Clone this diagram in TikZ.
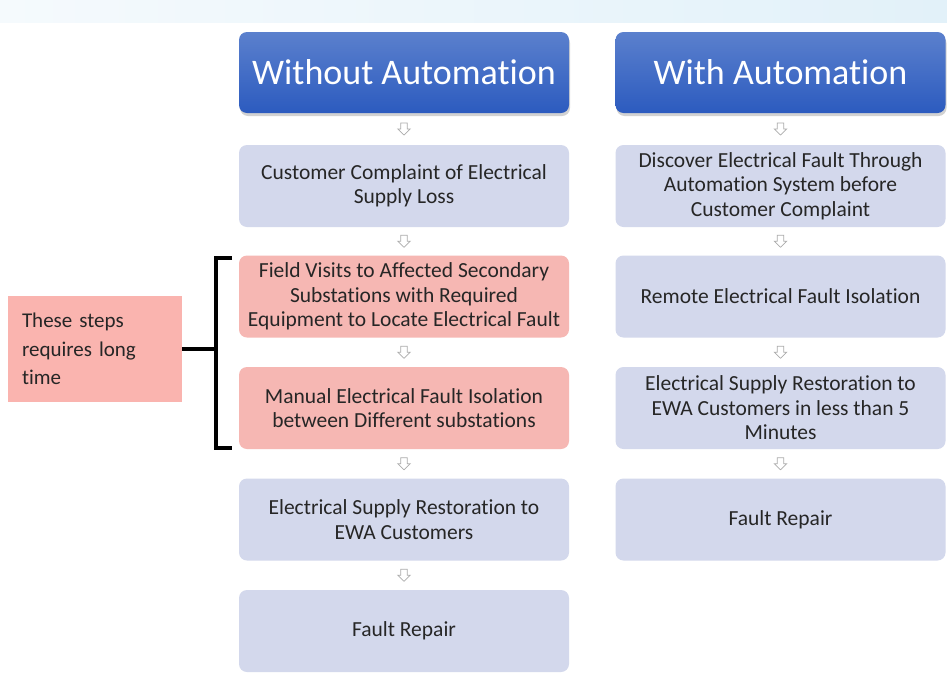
\documentclass[tikz,border=0pt]{standalone}
\usepackage{fontspec}
\setmainfont{Carlito}[Ligatures=NoCommon]
\usetikzlibrary{shadows,calc}

\definecolor{hdtop}{HTML}{5B80CD}
\definecolor{hdbot}{HTML}{2C5BBF}
\definecolor{stepfill}{HTML}{D3D8EC}
\definecolor{warnfill}{HTML}{F6B7B3}
\definecolor{notefill}{HTML}{FAB4AF}
\definecolor{txt}{HTML}{262626}
\definecolor{bandL}{HTML}{F5FAFD}
\definecolor{bandR}{HTML}{E2F1F9}

\tikzset{
  header/.style={rounded corners=8pt, minimum width=330pt, minimum height=81pt,
    top color=hdtop, bottom color=hdbot, text=white, inner sep=0pt,
    font=\fontsize{36}{40}\selectfont,
    drop shadow={shadow xshift=1pt, shadow yshift=-3pt, opacity=0.35}},
  stepbox/.style={rounded corners=8pt, minimum width=330pt, minimum height=82pt,
    fill=stepfill, text=txt, align=center, inner sep=0pt,
    font=\fontsize{21.5}{24.5}\selectfont},
  warnbox/.style={stepbox, fill=warnfill},
  note/.style={fill=notefill, minimum width=174pt, minimum height=106pt,
    text=txt, align=left, inner sep=0pt, text width=146pt,
    font=\fontsize{21}{28.5}\selectfont},
  downarr/.pic={
    \draw[gray!65, fill=white, line width=0.7pt, line join=miter]
      (-3.2,-6) -- (3.2,-6) -- (3.2,0) -- (6.2,0) -- (0,6) -- (-6.2,0) -- (-3.2,0) -- cycle;
  },
  bracket/.style={line width=3.4pt, black}
}

\begin{document}
\begin{tikzpicture}[x=1pt, y=-1pt]
  \useasboundingbox (0,0) rectangle (947,675);
  \fill[white] (0,0) rectangle (947,675);
  % pale band along the top edge
  \shade[left color=bandL, right color=bandR] (0,0) rectangle (947,22);

  % column without automation
  \node[header] (h1) at (404,72.5) {Without Automation};
  \node[stepbox] (a1) at (404,186) {Customer Complaint of Electrical\\Supply Loss};
  \node[warnbox] (a2) at (404,296.5) {Field Visits to Affected Secondary\\Substations with Required\\Equipment to Locate Electrical Fault};
  \node[warnbox] (a3) at (404,408) {Manual Electrical Fault Isolation\\between Different substations};
  \node[stepbox] (a4) at (404,519.5) {Electrical Supply Restoration to\\EWA Customers};
  \node[stepbox] (a5) at (404,631) {Fault Repair};

  % column with automation
  \node[header] (h2) at (780.5,72.5) {With Automation};
  \node[stepbox] (b1) at (780.5,186) {Discover Electrical Fault Through\\Automation System before\\Customer Complaint};
  \node[stepbox] (b2) at (780.5,296.5) {Remote Electrical Fault Isolation};
  \node[stepbox] (b3) at (780.5,408) {Electrical Supply Restoration to\\EWA Customers in less than 5\\Minutes};
  \node[stepbox] (b4) at (780.5,519.5) {Fault Repair};

  % small hollow arrows between consecutive boxes
  \foreach \u/\v in {h1/a1,a1/a2,a2/a3,a3/a4,a4/a5,h2/b1,b1/b2,b2/b3,b3/b4}
    \path ($(\u.south)!0.5!(\v.north)$) pic {downarr};

  % note and bracket
  \node[note] (n) at (95,349) {These steps\\requires long\\time};
  \coordinate (bt) at (232,258);
  \coordinate (bb) at (232,448);
  \coordinate (bm) at (216,349);
  \draw[bracket] (bt) -- (216,258) -- (216,448) -- (bb);
  \draw[bracket] (n.east) -- (bm);
\end{tikzpicture}
\end{document}
